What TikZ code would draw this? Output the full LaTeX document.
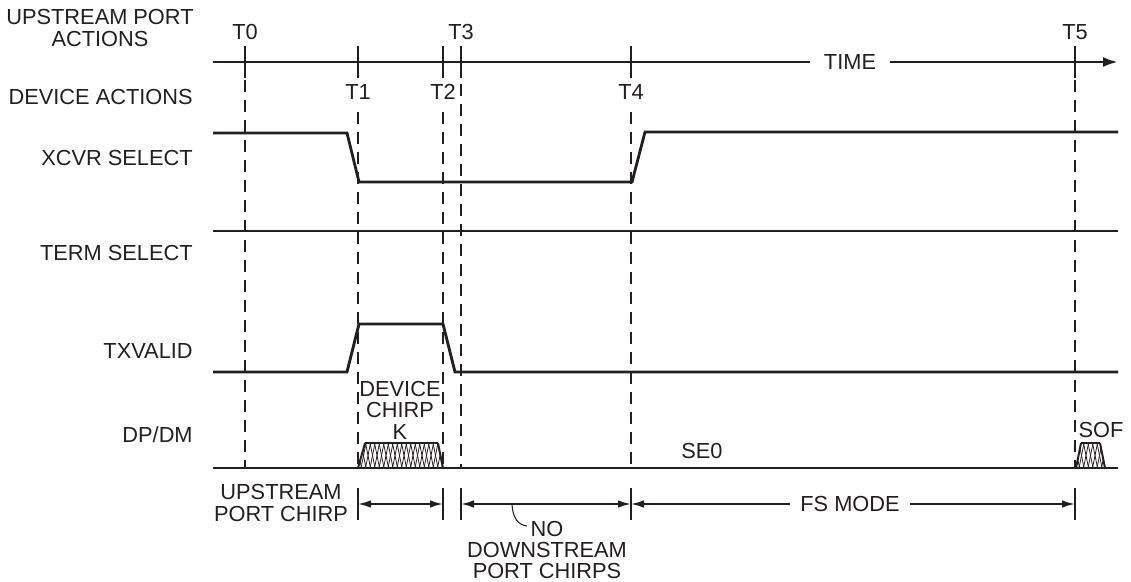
\documentclass[tikz,border=0pt]{standalone}
\usepackage{fontspec}
\setmainfont{Liberation Sans}
\usetikzlibrary{arrows.meta}
\definecolor{encre}{HTML}{231F20}
\begin{document}
\begin{tikzpicture}[x=0.02cm,y=-0.02cm,
  texte/.style={font=\fontsize{12.4}{12.2}\selectfont, text=encre, inner sep=0pt, align=center},
  signal/.style={draw=encre, line width=1.6pt},
  repere/.style={draw=encre, line width=1.2pt, dash pattern=on 0.24cm off 0.16cm},
  cote/.style={draw=encre, line width=0.9pt, {Latex[length=0.26cm,width=0.15cm]}-{Latex[length=0.26cm,width=0.15cm]}},
  borne/.style={draw=encre, line width=1pt},
  hachure/.style={draw=encre, line width=0.45pt}]

\useasboundingbox (0,0) rectangle (1131,581);

% Titres a gauche
\node[texte] (amont) at (100,28) {UPSTREAM PORT\\ACTIONS};
\node[texte, anchor=east] (device) at (193,97) {DEVICE ACTIONS};
\node[texte, anchor=east] (xcvr) at (193,158) {XCVR SELECT};
\node[texte, anchor=east] (term) at (193,253) {TERM SELECT};
\node[texte, anchor=east] (txvalid) at (193,351) {TXVALID};
\node[texte, anchor=east] (dpdm) at (193,435) {DP/DM};

% Axe du temps
\coordinate (debut) at (213,62);
\coordinate (fin) at (1118,62);
\draw[signal, -{Latex[length=0.3cm,width=0.2cm]}] (debut) -- (fin);
\node[texte, fill=white, inner xsep=0.27cm, inner ysep=2pt] (temps) at (850,62) {TIME};

% Reperes T0 ... T5
\foreach \nom/\x/\ty/\dy in {T0/245/32/80, T3/461/32/84, T5/1075/32/80,
                               T1/358/92/112, T2/443/92/112, T4/631/92/112} {
  \coordinate (\nom) at (\x,62);
  \draw[signal] (\x,46) -- (\x,78);
  \node[texte] at (\x,\ty) {\nom};
  \draw[repere] (\x,\dy) -- (\x,468);
}

% XCVR SELECT
\draw[signal] (213,133) -- (347,133) -- (359,182) -- (632,182) -- (645,132) -- (1118,132);

% TERM SELECT
\draw[signal] (213,231) -- (1118,231);

% TXVALID
\draw[signal] (213,372) -- (347,372) -- (359,324) -- (443,324) -- (455,372) -- (1118,372);

% DP/DM
\draw[signal] (213,468) -- (1118,468);

% Chirp K
\begin{scope}
  \clip (358,468) -- (365,443) -- (438,443) -- (443,468) -- cycle;
  \foreach \x in {352,356.5,...,450} {
    \draw[hachure] (\x,468) -- (\x+5,443);
    \draw[hachure] (\x+5,468) -- (\x,443);
  }
\end{scope}
\draw[encre, line width=1.1pt] (358,468) -- (365,443);
\draw[encre, line width=1.1pt] (438,443) -- (443,468);
\draw[signal] (365,443) -- (438,443);
\node[texte] (chirpk) at (400,410) {DEVICE\\CHIRP\\K};

% SOF
\begin{scope}
  \clip (1076,468) -- (1081,443) -- (1100,443) -- (1105,468) -- cycle;
  \foreach \x in {1070,1074.5,...,1110} {
    \draw[hachure] (\x,468) -- (\x+5,443);
    \draw[hachure] (\x+5,468) -- (\x,443);
  }
\end{scope}
\draw[encre, line width=1.1pt] (1076,468) -- (1081,443);
\draw[encre, line width=1.1pt] (1100,443) -- (1105,468);
\draw[signal] (1081,443) -- (1100,443);
\node[texte] (sof) at (1101,430) {SOF};

\node[texte] (se0) at (702,451) {SE0};

% Cotes en bas
\foreach \x in {358,443,461,631,1075}
  \draw[borne] (\x,488) -- (\x,520);
\coordinate (c1) at (358,504);
\coordinate (c2) at (443,504);
\coordinate (c3) at (461,504);
\coordinate (c4) at (631,504);
\coordinate (c5) at (1075,504);
\draw[cote] (c1) -- (c2);
\draw[cote] (c3) -- (c4);
\draw[cote] (c4) -- (c5);
\node[texte, fill=white, inner xsep=0.2cm, inner ysep=2pt] (fsmode) at (850,504) {FS MODE};
\node[texte] (upchirp) at (281,503) {UPSTREAM\\PORT CHIRP};
\node[texte] (nochirp) at (547,550) {NO\\DOWNSTREAM\\PORT CHIRPS};
\coordinate (renvoi) at (512,505);
\draw[encre, line width=0.6pt] (renvoi) .. controls (513,518) and (518,525) .. (527,526);

\end{tikzpicture}
\end{document}
